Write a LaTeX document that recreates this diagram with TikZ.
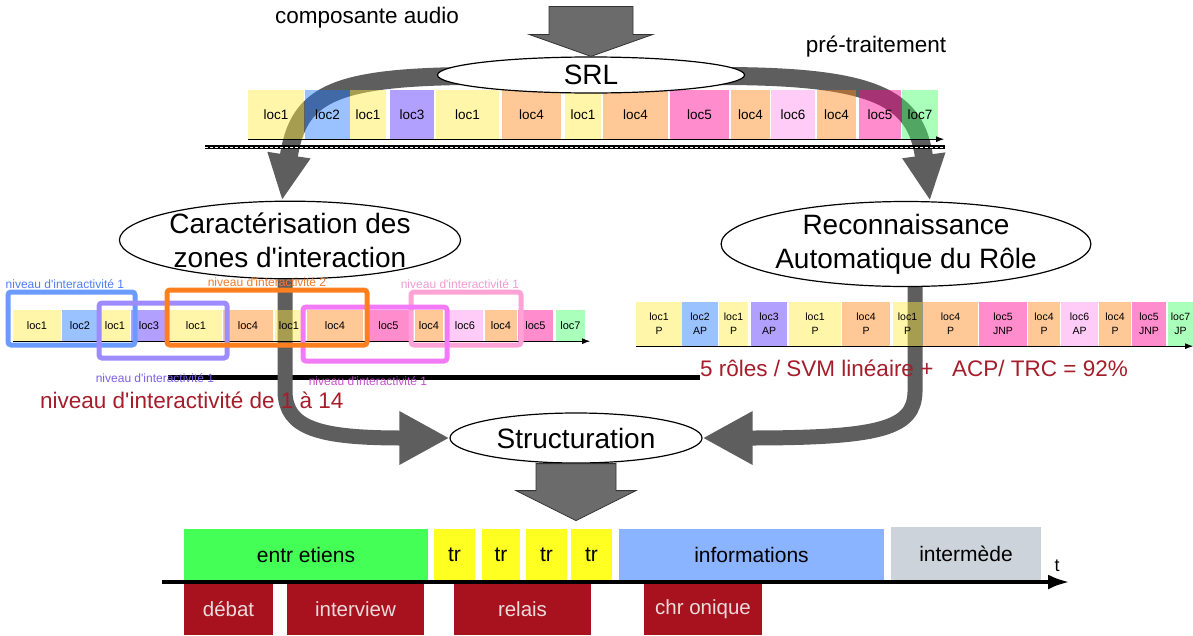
\documentclass[tikz,border=0pt]{standalone}
\usepackage{fontspec}
\newfontfamily\arial{Liberation Sans}
\newcommand{\fsz}[2]{\arial\fontsize{#1}{#2}\selectfont}
\usetikzlibrary{arrows.meta,shapes.geometric,backgrounds,positioning}
\definecolor{flowgray}{HTML}{5E5E5E}
\definecolor{blockgray}{HTML}{6B6B6B}
\definecolor{yellowloc}{HTML}{FFEB42}
\definecolor{blueloc}{HTML}{1C77FF}
\definecolor{violetloc}{HTML}{542CFF}
\definecolor{orangeloc}{HTML}{FF8516}
\definecolor{pinkloc}{HTML}{FF008E}
\definecolor{mauveloc}{HTML}{FF8EEF}
\definecolor{greenloc}{HTML}{42FF68}
\definecolor{darkred}{HTML}{A8121E}
\definecolor{redtext}{HTML}{A51D2A}
\definecolor{paletext}{HTML}{EADCDC}
\definecolor{entgreen}{HTML}{44FF55}
\definecolor{tryellow}{HTML}{FFFF22}
\definecolor{infoblue}{HTML}{8AB4FF}
\definecolor{intgray}{HTML}{CDD3DB}
\definecolor{frblue}{HTML}{6B9BFF}
\definecolor{frviolet}{HTML}{9E8CFF}
\definecolor{frorange}{HTML}{FF7F1E}
\definecolor{frmagenta}{HTML}{F27AF5}
\definecolor{frpink}{HTML}{FFA3D6}
\definecolor{lbblue}{HTML}{4D7DFF}
\definecolor{lbviolet}{HTML}{7B5FE8}
\definecolor{lborange}{HTML}{F07A2E}
\definecolor{lbmagenta}{HTML}{C552CB}
\definecolor{lbpink}{HTML}{F29AD0}

\begin{document}
\begin{tikzpicture}[x=1pt,y=1pt,font=\fsz{22.5}{27},>=Latex,
  loc/.style={inner sep=0,fill opacity=.45,text opacity=1},
  sloc/.style={loc,minimum height=49pt,font=\fsz{13.5}{16}},
  zloc/.style={loc,minimum height=31pt,font=\fsz{11}{13}},
  rloc/.style={loc,minimum height=44pt,align=center,font=\fsz{10.5}{14}},
  bubble/.style={ellipse,draw,fill=white,line width=1.2pt,inner sep=0,
    align=center,font=\fsz{28}{34}},
  flow/.style={draw=flowgray,line width=18pt,
    -{Triangle[length=46pt,width=40pt]}},
  flowlow/.style={draw=flowgray,line width=15pt,
    -{Triangle[length=50pt,width=50pt]}},
  blockarrow/.style={fill=blockgray,draw=black!80,line width=.8pt},
  frame/.style={draw,line width=5pt,rounded corners=3pt,inner sep=0},
  lvl/.style={inner sep=0,font=\fsz{12}{14}},
  axis/.style={-{Latex[length=8pt,width=6pt]},line width=1.2pt},
  redtxt/.style={text=redtext,inner sep=0},
  seg/.style={inner sep=0,minimum height=51pt,font=\fsz{21}{25}},
  role/.style={seg,fill=darkred,text=paletext,font=\fsz{20.5}{25}}]
  \useasboundingbox (0,0) rectangle (1193,-635);

  \node (audio) at (367,-18) {composante audio};
  \node (pretrait) at (876,-47) {pré-traitement};

  % segments du SRL
  \node[sloc,fill=yellowloc,minimum width=56pt] (s1) at (276,-114.5) {loc1};
  \node[sloc,fill=blueloc,minimum width=45pt] (s2) at (327.5,-114.5) {loc2};
  \node[sloc,fill=yellowloc,minimum width=36pt] (s3) at (368,-114.5) {loc1};
  \node[sloc,fill=violetloc,minimum width=44pt] (s4) at (412,-114.5) {loc3};
  \node[sloc,fill=yellowloc,minimum width=63pt] (s5) at (467.5,-114.5) {loc1};
  \node[sloc,fill=orangeloc,minimum width=59pt] (s6) at (531.5,-114.5) {loc4};
  \node[sloc,fill=yellowloc,minimum width=36pt] (s7) at (583,-114.5) {loc1};
  \node[sloc,fill=orangeloc,minimum width=65pt] (s8) at (635.5,-114.5) {loc4};
  \node[sloc,fill=pinkloc,minimum width=59pt] (s9) at (699.5,-114.5) {loc5};
  \node[sloc,fill=orangeloc,minimum width=39pt] (s10) at (750.5,-114.5) {loc4};
  \node[sloc,fill=mauveloc,minimum width=44pt] (s11) at (793,-114.5) {loc6};
  \node[sloc,fill=orangeloc,minimum width=39pt] (s12) at (836.5,-114.5) {loc4};
  \node[sloc,fill=pinkloc,minimum width=42pt] (s13) at (880,-114.5) {loc5};
  \node[sloc,fill=greenloc,minimum width=36pt] (s14) at (920,-114.5) {loc7};
  \draw[axis] (s1.south west) -- ([xshift=6pt]s14.south east);
  \draw[line width=4pt] (205,-147) -- (945,-147);
  \draw[white,line width=.8pt,dash pattern=on 3pt off 2pt] (205,-147) -- (945,-147);

  % zones d'interaction
  \node[zloc,fill=yellowloc,minimum width=48pt] (z1) at (37,-325.5) {loc1};
  \node[zloc,fill=blueloc,minimum width=36pt] (z2) at (80,-325.5) {loc2};
  \node[zloc,fill=yellowloc,minimum width=30pt] (z3) at (115,-325.5) {loc1};
  \node[zloc,fill=violetloc,minimum width=36pt] (z4) at (149,-325.5) {loc3};
  \node[zloc,fill=yellowloc,minimum width=52pt] (z5) at (196,-325.5) {loc1};
  \node[zloc,fill=orangeloc,minimum width=50pt] (z6) at (248,-325.5) {loc4};
  \node[zloc,fill=yellowloc,minimum width=28pt] (z7) at (289,-325.5) {loc1};
  \node[zloc,fill=orangeloc,minimum width=56pt] (z8) at (335,-325.5) {loc4};
  \node[zloc,fill=pinkloc,minimum width=47pt] (z9) at (388.5,-325.5) {loc5};
  \node[zloc,fill=orangeloc,minimum width=28pt] (z10) at (429,-325.5) {loc4};
  \node[zloc,fill=mauveloc,minimum width=36pt] (z11) at (465,-325.5) {loc6};
  \node[zloc,fill=orangeloc,minimum width=32pt] (z12) at (501,-325.5) {loc4};
  \node[zloc,fill=pinkloc,minimum width=35pt] (z13) at (535.5,-325.5) {loc5};
  \node[zloc,fill=greenloc,minimum width=29pt] (z14) at (570.5,-325.5) {loc7};
  \draw[axis] (z1.south west) -- ([xshift=5pt]z14.south east);

  % roles
  \node[rloc,fill=yellowloc,minimum width=46pt] (r1) at (659,-324) {loc1\\P};
  \node[rloc,fill=blueloc,minimum width=36pt] (r2) at (700,-324) {loc2\\AP};
  \node[rloc,fill=yellowloc,minimum width=29pt] (r3) at (733.5,-324) {loc1\\P};
  \node[rloc,fill=violetloc,minimum width=36pt] (r4) at (769,-324) {loc3\\AP};
  \node[rloc,fill=yellowloc,minimum width=52pt] (r5) at (815,-324) {loc1\\P};
  \node[rloc,fill=orangeloc,minimum width=48pt] (r6) at (866,-324) {loc4\\P};
  \node[rloc,fill=yellowloc,minimum width=29pt] (r7) at (907.5,-324) {loc1\\P};
  \node[rloc,fill=orangeloc,minimum width=55pt] (r8) at (950.5,-324) {loc4\\P};
  \node[rloc,fill=pinkloc,minimum width=48pt] (r9) at (1003,-324) {loc5\\JNP};
  \node[rloc,fill=orangeloc,minimum width=32pt] (r10) at (1044,-324) {loc4\\P};
  \node[rloc,fill=mauveloc,minimum width=37pt] (r11) at (1079.5,-324) {loc6\\AP};
  \node[rloc,fill=orangeloc,minimum width=32pt] (r12) at (1115,-324) {loc4\\P};
  \node[rloc,fill=pinkloc,minimum width=34pt] (r13) at (1149,-324) {loc5\\JNP};
  \node[rloc,fill=greenloc,minimum width=25pt] (r14) at (1180.5,-324) {loc7\\JP};
  \draw[axis] (r1.south west) -- (r14.south east);

  \node[bubble,minimum width=307pt,minimum height=36pt] (srl) at (591,-75) {SRL};
  \node[bubble,minimum width=324pt,minimum height=76pt] (carac) at (290,-240)
    {Caractérisation des\\zones d'interaction};
  \node[bubble,minimum width=366pt,minimum height=72pt] (reco) at (906,-244)
    {Reconnaissance\\Automatique du Rôle};
  \node[bubble,minimum width=252pt,minimum height=50pt] (struct) at (576,-438)
    {Structuration};

  \begin{scope}[on background layer]
    \draw[line width=5pt] (168,-377) -- (700,-377);
    \draw[flow] ([xshift=25pt,yshift=-1pt]srl.west) .. controls (330,-78) and (298,-96)
      .. ([xshift=-8pt]carac.north);
    \draw[flow] ([xshift=-25pt,yshift=-1pt]srl.east) .. controls (876,-76) and (916,-98)
      .. ([xshift=24pt]reco.north);
    \draw[flowlow] ([xshift=-5pt]carac.south) -- (285,-392)
      .. controls (286,-428) and (318,-438) .. (struct.west);
    \draw[flowlow] ([xshift=9pt]reco.south) -- (915,-392)
      .. controls (914,-428) and (882,-438) .. (struct.east);
  \end{scope}

  \draw[blockarrow] (srl.north) -- ++(-62,22) -- ++(20,0) -- ++(0,28)
    -- ++(84,0) -- ++(0,-28) -- ++(20,0) -- cycle;
  \draw[blockarrow] ([xshift=-40pt]struct.south) -- ++(0,-27) -- ++(-20,0)
    -- ++(60,-30) -- ++(60,30) -- ++(-20,0) -- ++(0,27) -- cycle;

  % niveaux d'interactivite
  \node[frame,draw=frblue,minimum width=127pt,minimum height=53pt] (f1) at (71.5,-318.5) {};
  \node[frame,draw=frviolet,minimum width=128pt,minimum height=55pt] (f2) at (163,-330.5) {};
  \node[frame,draw=frpink,minimum width=110pt,minimum height=53pt] (f5) at (466,-318.5) {};
  \node[frame,draw=frmagenta,minimum width=144pt,minimum height=54pt] (f4) at (375,-334) {};
  \node[frame,draw=frorange,minimum width=200pt,minimum height=55pt] (f3) at (267,-317.5) {};
  \node[lvl,text=lbblue,anchor=south west] (n1) at ([yshift=1pt]f1.north west)
    {niveau d'interactivité 1};
  \node[lvl,text=lbviolet,below=13pt of f2,xshift=-8pt] (n2) {niveau d'interactivité 1};
  \node[lvl,text=lborange,above=1pt of f3] (n3) {niveau d'interactivité 2};
  \node[lvl,text=lbmagenta,below=13pt of f4,xshift=-7pt] (n4) {niveau d'interactivité 1};
  \node[lvl,text=lbpink,above=1pt of f5,xshift=-6pt] (n5) {niveau d'interactivité 1};

  \node[redtxt,anchor=west] (niv) at (40,-400) {niveau d'interactivité de 1 à 14};
  \node[redtxt,anchor=west] (svm) at (700,-368)
    {5 rôles / SVM linéaire +\ \ \ ACP/ TRC = 92\%};

  % structuration finale
  \node[seg,fill=entgreen,minimum width=244pt] (ent) at (306,-554.5) {entr etiens};
  \node[seg,fill=tryellow,minimum width=41pt] (tr1) at (454.5,-554.5) {tr};
  \node[seg,fill=tryellow,minimum width=38pt] (tr2) at (501,-554.5) {tr};
  \node[seg,fill=tryellow,minimum width=41pt] (tr3) at (546.5,-554.5) {tr};
  \node[seg,fill=tryellow,minimum width=41pt] (tr4) at (591.5,-554.5) {tr};
  \node[seg,fill=infoblue,minimum width=265pt] (info) at (751.5,-554.5) {informations};
  \node[seg,fill=intgray,minimum width=150pt,minimum height=53pt] (inter) at (966,-553.5) {intermède};
  \node[role,minimum width=89pt] (debat) at (228.5,-609.5) {débat};
  \node[role,minimum width=137pt] (itw) at (355.5,-609.5) {interview};
  \node[role,minimum width=137pt] (relais) at (522.5,-609.5) {relais};
  \node[role,minimum width=118pt] (chron) at (703,-609.5) {chr onique};
  \coordinate (t0) at (162,-582);
  \coordinate (t1) at (1070,-582);
  \draw[line width=4.5pt,-{Latex[length=22pt,width=15pt]}] (t0) -- (t1);
  \node[font=\fsz{18}{20}] (tlab) at (1057,-566) {t};
\end{tikzpicture}
\end{document}
